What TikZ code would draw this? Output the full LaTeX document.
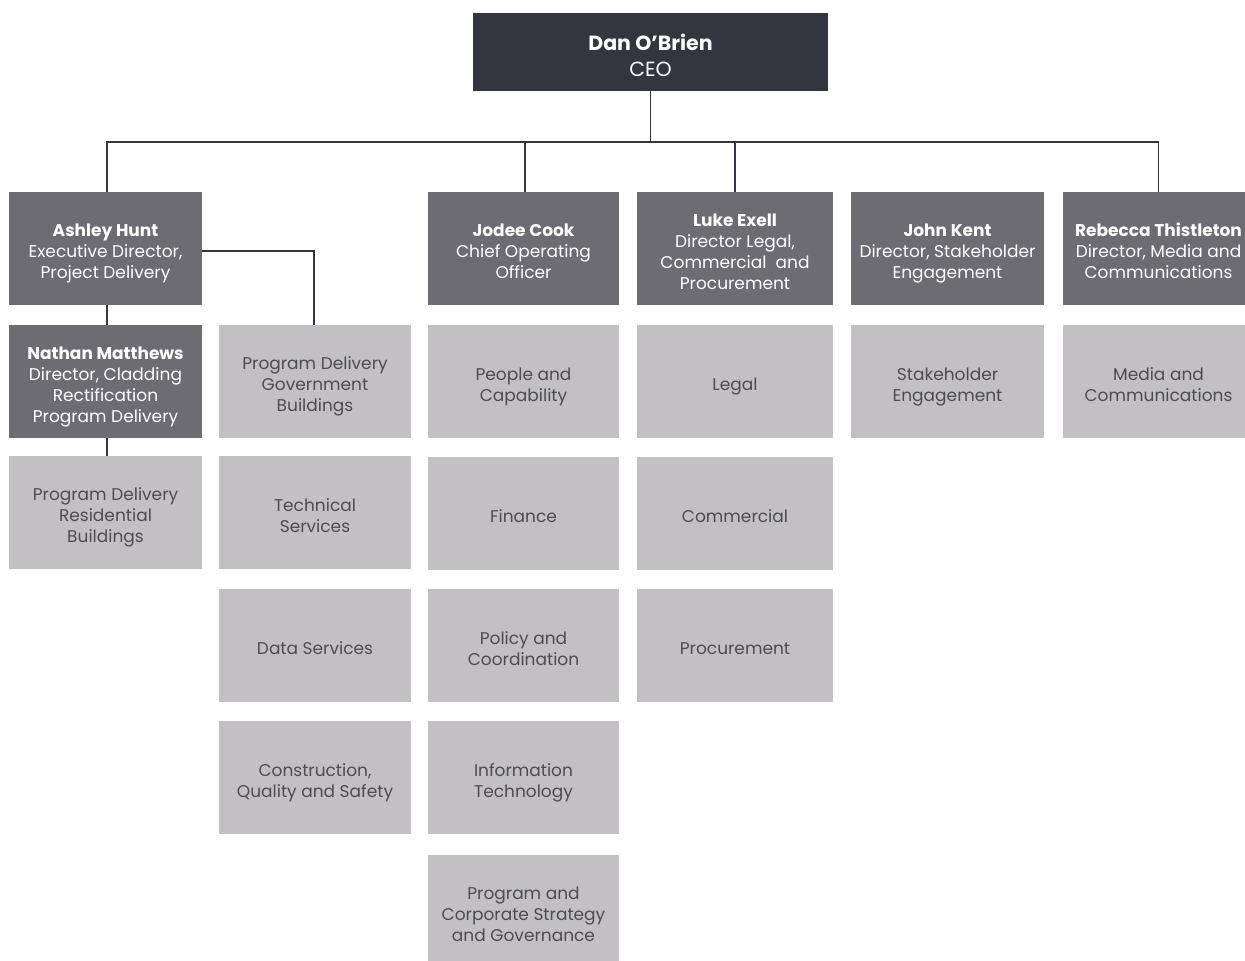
\documentclass[tikz,border=0pt]{standalone}
\usepackage{fontspec}
\setmainfont{Poppins}
\definecolor{ceoC}{HTML}{34363F}
\definecolor{dirC}{HTML}{6D6C72}
\definecolor{unitC}{HTML}{C2C0C3}
\definecolor{unitT}{HTML}{4C4C52}
\definecolor{lineC}{HTML}{34363F}
\newcommand{\fnt}{\fontsize{17}{21}\selectfont}
\newcommand{\cfnt}{\fontsize{20.5}{26}\selectfont}
\newcommand{\T}{\rule{0pt}{14pt}}
\newcommand{\B}{\rule[-5pt]{0pt}{5pt}}
\newcommand{\CT}{\rule{0pt}{17pt}}
\newcommand{\CB}{\rule[-6pt]{0pt}{6pt}}
\tikzset{
  box/.style={rectangle, inner sep=0pt},
  txt/.style={align=center, inner sep=0pt, font=\fnt, text=white, yshift=-4.7pt},
  utxt/.style={txt, text=unitT},
  ctxt/.style={align=center, inner sep=0pt, font=\cfnt, text=white, yshift=-6pt},
  ceobox/.style={box, fill=ceoC, minimum width=355pt, minimum height=78pt},
  dirbox/.style={box, fill=dirC, minimum height=113pt},
  unitbox/.style={box, fill=unitC, minimum height=113pt},
  cA/.style={minimum width=193pt},
  cB/.style={minimum width=192pt},
  cC/.style={minimum width=191pt},
  cD/.style={minimum width=196pt},
  cE/.style={minimum width=193pt},
  cF/.style={minimum width=191pt},
  conn/.style={draw=lineC, line width=1.6pt}
}
\begin{document}
\begin{tikzpicture}[x=1pt,y=1pt]
\useasboundingbox (0,0) rectangle (1245,-961);
% CEO
\node[ceobox, label={[ctxt]center:{\CT\textbf{Dan O’Brien}\\CEO\CB}}] (ceo) at (650.5,-52) {};
% directors
\node[dirbox,cA, label={[txt]center:{\T\textbf{Ashley Hunt}\\Executive Director,\\Project Delivery\B}}] (ashley) at (105.5,-248.5) {};
\node[dirbox,cC, label={[txt]center:{\T\textbf{Jodee Cook}\\Chief Operating\\Officer\B}}] (jodee) at (523.5,-248.5) {};
\node[dirbox,cD, label={[txt]center:{\T\textbf{Luke Exell}\\Director Legal,\\Commercial\ \ and\\Procurement\B}}] (luke) at (735,-248.5) {};
\node[dirbox,cE, label={[txt]center:{\T\textbf{John Kent}\\Director, Stakeholder\\Engagement\B}}] (john) at (947.5,-248.5) {};
\node[dirbox,cF, label={[txt]center:{\T\textbf{Rebecca Thistleton}\\Director, Media and\\Communications\B}}] (rebecca) at (1158.5,-248.5) {};
% row 2
\node[dirbox,cA, label={[txt]center:{\T\textbf{Nathan Matthews}\\Director, Cladding\\Rectification\\Program Delivery\B}}] (nathan) at (105.5,-381.5) {};
\node[unitbox,cB, label={[utxt]center:{\T Program Delivery\\Government\\Buildings\B}}] (pdgov) at (315,-381.5) {};
\node[unitbox,cC, label={[utxt]center:{\T People and\\Capability\B}}] (people) at (523.5,-381.5) {};
\node[unitbox,cD, label={[utxt]center:{\T Legal\B}}] (legal) at (735,-381.5) {};
\node[unitbox,cE, label={[utxt]center:{\T Stakeholder\\Engagement\B}}] (stake) at (947.5,-381.5) {};
\node[unitbox,cF, label={[utxt]center:{\T Media and\\Communications\B}}] (media) at (1158.5,-381.5) {};
% row 3
\node[unitbox,cA, label={[utxt]center:{\T Program Delivery\\Residential\\Buildings\B}}] (pdres) at (105.5,-512.5) {};
\node[unitbox,cB, label={[utxt]center:{\T Technical\\Services\B}}] (tech) at (315,-512.5) {};
\node[unitbox,cC, label={[utxt]center:{\T Finance\B}}] (finance) at (523.5,-513.5) {};
\node[unitbox,cD, label={[utxt]center:{\T Commercial\B}}] (commercial) at (735,-513.5) {};
% row 4
\node[unitbox,cB, label={[utxt]center:{\T Data Services\B}}] (data) at (315,-645.5) {};
\node[unitbox,cC, label={[utxt]center:{\T Policy and\\Coordination\B}}] (policy) at (523.5,-645.5) {};
\node[unitbox,cD, label={[utxt]center:{\T Procurement\B}}] (procure) at (735,-645.5) {};
% row 5
\node[unitbox,cB, label={[utxt]center:{\T Construction,\\Quality and Safety\B}}] (constr) at (315,-777.5) {};
\node[unitbox,cC, label={[utxt]center:{\T Information\\Technology\B}}] (it) at (523.5,-777.5) {};
% row 6
\node[unitbox,cC, label={[utxt]center:{\T Program and\\Corporate Strategy\\and Governance\B}}] (strategy) at (523.5,-911.5) {};
% connectors
\draw[conn] (ceo.south) -- ++(0,-51);
\draw[conn] ([xshift=1.5pt]ashley.north) -- ++(0,50) -| (rebecca.north);
\draw[conn] ([xshift=1.5pt]jodee.north) -- ++(0,50);
\draw[conn] (luke.north) -- ++(0,50);
\draw[conn] ([xshift=1.5pt]ashley.south) -- ([xshift=1.5pt]nathan.north);
\draw[conn] ([xshift=1.5pt]nathan.south) -- ([xshift=1.5pt]pdres.north);
\draw[conn] ([yshift=-2.5pt]ashley.east) -| ([xshift=-1pt]pdgov.north);
\end{tikzpicture}
\end{document}
